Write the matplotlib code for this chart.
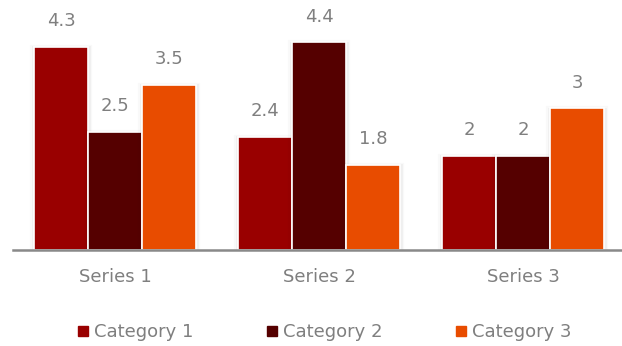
import numpy as np
import matplotlib
matplotlib.use("Agg")
import matplotlib.pyplot as plt
import matplotlib.patheffects as pe
from matplotlib.lines import Line2D

plt.rcParams['font.family'] = ['DejaVu Sans']

# data
series = ['Series 1', 'Series 2', 'Series 3']
categories = ['Category 1', 'Category 2', 'Category 3']
cat1 = [4.3, 2.4, 2]
cat2 = [2.5, 4.4, 2]
cat3 = [3.5, 1.8, 3]
colors = ['#990000', '#550000', '#E84C00']

text_color = '#7F7F7F'

fig = plt.figure(figsize=(6.22, 3.46), dpi=100)
ax = fig.add_axes([13 / 622, 96 / 346, 612 / 622, 236 / 346])

x = np.arange(len(series))
width = 0.265
# soft shadow, a bit heavier below than on top
shadow = [pe.Stroke(linewidth=6, foreground='#000000', alpha=0.025, offset=(0, -1.5)),
          pe.Stroke(linewidth=3.5, foreground='#000000', alpha=0.04, offset=(0, -1)),
          pe.Normal()]

for i, (vals, col) in enumerate(zip([cat1, cat2, cat3], colors)):
    bars = ax.bar(x + (i - 1) * width, vals, width, color=col,
                  edgecolor='white', linewidth=1.2, label=categories[i], zorder=2)
    for b in bars:
        b.set_path_effects(shadow)
    for xi, v in zip(x + (i - 1) * width, vals):
        ax.annotate(f'{v:g}', (xi, v), xytext=(0, 12), textcoords='offset points',
                    ha='center', va='bottom', fontsize=13, color=text_color)

ax.set_xlim(-0.5, 2.5)
ax.set_ylim(0, 5)
ax.set_xticks(x)
ax.set_xticklabels(series, fontsize=13, color=text_color)
ax.tick_params(axis='x', length=0, pad=13)
ax.set_yticks([])
for s in ['top', 'right', 'left']:
    ax.spines[s].set_visible(False)
ax.spines['bottom'].set_color('#898989')
ax.spines['bottom'].set_linewidth(1.8)
ax.spines['bottom'].set_zorder(3)

handles = [Line2D([], [], marker='s', linestyle='none', markersize=6.5,
                  markerfacecolor=c, markeredgecolor=c) for c in colors]
fig.legend(handles, categories, loc='center', bbox_to_anchor=(325 / 622, 1 - 332 / 346),
           ncol=3, frameon=False, fontsize=13, labelcolor=text_color,
           handlelength=0.5, handletextpad=0.35, columnspacing=4.1)

fig.savefig('out.png', dpi=100)
